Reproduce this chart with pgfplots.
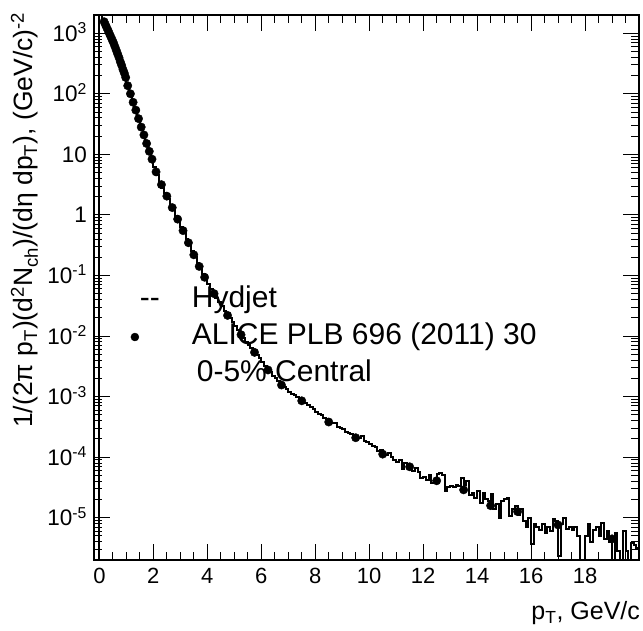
\documentclass[border=0pt]{standalone}
\usepackage{fontspec}
\setmainfont{Liberation Sans}
\usepackage{pgfplots}
\pgfplotsset{compat=1.18}
\pgfplotstableread[row sep=\\]{
x y \\
0 1e-8 \\
0.0 2.1e3 \\ 0.1 1.58e3 \\ 0.2 1.26e3 \\ 0.3 1.0e3 \\ 0.4 7.8e2 \\ 0.5 6.0e2 \\ 0.6 4.6e2 \\ 0.7 3.4e2 \\ 0.8 2.5e2 \\ 0.9 1.86e2 \\
1.0 1.36e2 \\ 1.1 1.0e2 \\ 1.2 72 \\ 1.3 54 \\ 1.4 39 \\ 1.5 28 \\ 1.6 21 \\ 1.7 15 \\ 1.8 11.2 \\ 1.9 8.3 \\
2.0 6.2 \\ 2.1 4.6 \\ 2.2 3.5 \\ 2.3 2.8 \\ 2.4 2.3 \\ 2.5 1.86 \\ 2.6 1.48 \\ 2.7 1.2 \\ 2.8 0.95 \\ 2.9 0.78 \\
3.0 0.63 \\ 3.1 0.50 \\ 3.2 0.40 \\ 3.3 0.32 \\ 3.4 0.25 \\ 3.5 0.20 \\ 3.6 0.162 \\ 3.7 0.132 \\ 3.8 0.107 \\ 3.9 0.087 \\
4.0 0.072 \\ 4.1 0.060 \\ 4.2 0.051 \\ 4.3 0.043 \\ 4.4 0.036 \\ 4.5 0.031 \\ 4.6 0.026 \\ 4.7 0.0224 \\ 4.8 0.0195 \\ 4.9 0.017 \\
5.0 0.0148 \\ 5.1 0.0126 \\ 5.2 0.0107 \\ 5.3 0.0091 \\ 5.4 0.0081 \\ 5.5 0.0072 \\ 5.6 0.0063 \\ 5.7 0.0055 \\ 5.8 0.0048 \\ 5.9 0.0043 \\
6.0 0.0037 \\ 6.1 0.0032 \\ 6.2 0.0028 \\ 6.3 0.0025 \\ 6.4 0.0022 \\ 6.5 0.0020 \\ 6.6 0.00178 \\ 6.7 0.00158 \\ 6.8 0.00145 \\ 6.9 0.00132 \\
7.0 0.0012 \\ 7.1 0.00112 \\ 7.2 0.00105 \\ 7.3 9.8e-4 \\ 7.4 9.1e-4 \\ 7.5 8.5e-4 \\ 7.6 7.9e-4 \\ 7.7 7.2e-4 \\ 7.8 6.8e-4 \\ 7.9 6.2e-4 \\
8.0 5.6e-4 \\ 8.1 5.2e-4 \\ 8.2 5.0e-4 \\ 8.3 4.5e-4 \\ 8.4 4.3e-4 \\ 8.5 4.0e-4 \\ 8.6 3.7e-4 \\ 8.7 3.6e-4 \\ 8.8 3.2e-4 \\ 8.9 3.0e-4 \\
9.0 2.95e-4 \\ 9.1 2.6e-4 \\ 9.2 2.5e-4 \\ 9.3 2.45e-4 \\ 9.4 2.2e-4 \\ 9.5 2.14e-4 \\ 9.6 2.04e-4 \\ 9.7 2.2e-4 \\ 9.8 1.86e-4 \\ 9.9 1.78e-4 \\
10.0 1.66e-4 \\ 10.1 1.51e-4 \\ 10.2 1.45e-4 \\ 10.3 1.26e-4 \\ 10.4 1.32e-4 \\ 10.5 1.12e-4 \\ 10.6 1.07e-4 \\ 10.7 1.17e-4 \\ 10.8 1.0e-4 \\ 10.9 9.1e-5 \\
11.0 8.3e-5 \\ 11.1 8.9e-5 \\ 11.2 6.3e-5 \\ 11.3 7.9e-5 \\ 11.4 6.6e-5 \\ 11.5 7.4e-5 \\ 11.6 6.0e-5 \\ 11.7 6.6e-5 \\ 11.8 5.6e-5 \\ 11.9 4.5e-5 \\
12.0 4.7e-5 \\ 12.1 4.2e-5 \\ 12.2 5.0e-5 \\ 12.3 3.8e-5 \\ 12.4 4.2e-5 \\ 12.5 5.2e-5 \\ 12.6 5.5e-5 \\ 12.7 5.0e-5 \\ 12.8 2.75e-5 \\ 12.9 3.2e-5 \\
13.0 3.3e-5 \\ 13.1 3.2e-5 \\ 13.2 3.5e-5 \\ 13.3 3.3e-5 \\ 13.4 4.5e-5 \\ 13.5 3.5e-5 \\ 13.6 4.0e-5 \\ 13.7 2.4e-5 \\ 13.8 2.6e-5 \\ 13.9 2.1e-5 \\
14.0 2.8e-5 \\ 14.1 1.78e-5 \\ 14.2 2.6e-5 \\ 14.3 2.0e-5 \\ 14.4 1.9e-5 \\ 14.5 2.5e-5 \\ 14.6 1.41e-5 \\ 14.7 1.66e-5 \\ 14.8 1.0e-5 \\ 14.9 1.9e-5 \\
15.0 2.0e-5 \\ 15.1 2.1e-5 \\ 15.2 1.05e-5 \\ 15.3 1.41e-5 \\ 15.4 1.58e-5 \\ 15.5 1.12e-5 \\ 15.6 1.41e-5 \\ 15.7 8.9e-6 \\ 15.8 7.1e-6 \\ 15.9 1.0e-5 \\
16.0 3.7e-6 \\ 16.1 7.9e-6 \\ 16.2 7.1e-6 \\ 16.3 6.3e-6 \\ 16.4 7.9e-6 \\ 16.5 5.6e-6 \\ 16.6 7.1e-6 \\ 16.7 6.0e-6 \\ 16.8 9.5e-6 \\ 16.9 8.9e-6 \\
17.0 2.3e-6 \\ 17.1 7.9e-6 \\ 17.2 1.0e-5 \\ 17.3 6.6e-6 \\ 17.4 7.1e-6 \\ 17.5 6.3e-6 \\ 17.6 7.1e-6 \\ 17.7 5.0e-6 \\ 17.8 1.0e-6 \\ 17.9 1.0e-6 \\
18.0 5.0e-6 \\ 18.1 7.9e-6 \\ 18.2 4.0e-6 \\ 18.3 6.3e-6 \\ 18.4 7.1e-6 \\ 18.5 5.0e-6 \\ 18.6 8.3e-6 \\ 18.7 4.5e-6 \\ 18.8 6.0e-6 \\ 18.9 4.0e-6 \\
19.0 1.0e-6 \\ 19.1 5.6e-6 \\ 19.2 2.8e-6 \\ 19.3 1.0e-6 \\ 19.4 6.0e-6 \\ 19.5 2.8e-6 \\ 19.6 1.0e-6 \\ 19.7 3.8e-6 \\ 19.8 3.5e-6 \\ 19.9 3.2e-6 \\
20.0 3.2e-6 \\
}\hydjet
\pgfplotstableread[row sep=\\]{
x y \\
0.175 1550 \\ 0.225 1380 \\ 0.275 1230 \\ 0.325 1100 \\ 0.375 977 \\ 0.425 871 \\ 0.475 776 \\ 0.525 692 \\ 0.575 603 \\ 0.625 525 \\
0.675 457 \\ 0.725 398 \\ 0.775 339 \\ 0.825 295 \\ 0.875 251 \\ 0.925 219 \\ 0.975 186 \\
1.05 136 \\ 1.15 100 \\ 1.25 72.4 \\ 1.35 53.7 \\ 1.45 38.9 \\ 1.55 28.2 \\ 1.65 20.9 \\ 1.75 15.1 \\ 1.85 11.2 \\ 1.95 8.32 \\
2.1 5.13 \\ 2.3 3.16 \\ 2.5 2.04 \\ 2.7 1.32 \\ 2.9 0.851 \\ 3.1 0.550 \\ 3.3 0.347 \\ 3.5 0.219 \\ 3.7 0.141 \\ 3.9 0.0933 \\
4.25 0.0501 \\ 4.75 0.0219 \\ 5.25 0.0105 \\ 5.75 0.00537 \\ 6.25 0.00275 \\ 6.75 0.00155 \\
7.5 8.51e-4 \\ 8.5 3.80e-4 \\ 9.5 2.09e-4 \\ 10.5 1.12e-4 \\ 11.5 6.92e-5 \\ 12.5 4.07e-5 \\ 13.5 2.88e-5 \\ 14.5 1.58e-5 \\ 15.5 1.26e-5 \\
17 7.59e-6 \\ 19 4.47e-6 \\
}\alice
\begin{document}
\begin{tikzpicture}
\useasboundingbox (-94pt,-71pt) rectangle (549pt,560pt);
\begin{axis}[
  at={(0pt,0pt)}, anchor=south west,
  scale only axis, width=545pt, height=545pt,
  ymode=log, xmin=-0.2, xmax=20, ymin=2e-6, ymax=2e3,
  axis line style={line width=1.2pt},
  tick align=inside,
  major tick length=16pt, minor tick length=8pt,
  every tick/.style={line width=0.9pt, black},
  xtick={0,2,4,6,8,10,12,14,16,18},
  xticklabels={0,2,4,6,8,10,12,14,16,18},
  minor xtick={0.5,1,1.5,2.5,3,3.5,4.5,5,5.5,6.5,7,7.5,8.5,9,9.5,10.5,11,11.5,12.5,13,13.5,14.5,15,15.5,16.5,17,17.5,18.5,19,19.5},
  ytick={1e-5,1e-4,1e-3,1e-2,1e-1,1,10,100,1000},
  yticklabels={10\textsuperscript{-5},10\textsuperscript{-4},10\textsuperscript{-3},10\textsuperscript{-2},10\textsuperscript{-1},1,10,10\textsuperscript{2},10\textsuperscript{3}},
  minor ytick={3e-6,4e-6,5e-6,6e-6,7e-6,8e-6,9e-6,
    2e-5,3e-5,4e-5,5e-5,6e-5,7e-5,8e-5,9e-5,
    2e-4,3e-4,4e-4,5e-4,6e-4,7e-4,8e-4,9e-4,
    2e-3,3e-3,4e-3,5e-3,6e-3,7e-3,8e-3,9e-3,
    0.02,0.03,0.04,0.05,0.06,0.07,0.08,0.09,
    0.2,0.3,0.4,0.5,0.6,0.7,0.8,0.9,
    2,3,4,5,6,7,8,9,
    20,30,40,50,60,70,80,90,
    200,300,400,500,600,700,800,900},
  xticklabel style={font=\fontsize{22}{26}\selectfont, anchor=north, inner sep=0pt, yshift=-8pt},
  yticklabel style={font=\fontsize{22.5}{27}\selectfont, anchor=base east, inner sep=0pt, xshift=-7pt, yshift=-8pt},
  xlabel={p\textsubscript{T}, GeV/c},
  ylabel={1/(2π p\textsubscript{T})(d\textsuperscript{2}N\textsubscript{ch})/(dη dp\textsubscript{T}), (GeV/c)\textsuperscript{-2}},
  xlabel style={font=\fontsize{25}{30}\selectfont, at={(axis description cs:1.002,-0.110)}, anchor=base east, inner sep=0pt},
  ylabel style={font=\fontsize{26.5}{32}\selectfont, at={(axis description cs:-0.112,1.005)}, anchor=base east, inner sep=0pt},
  legend style={at={(axis description cs:0.060,0.504)}, anchor=north west, draw=none, fill=none, inner sep=0pt,
    font=\fontsize{30}{36}\selectfont, row sep=8pt,
    nodes={inner sep=0pt, text height=22pt, text depth=7pt},
    /tikz/every odd column/.append style={column sep=32pt}},
  legend cell align=left,
]
\addplot[const plot mark left, black, line width=2pt,
  legend image code/.code={\path[draw=none,fill=none] (0pt,-5pt) rectangle (20pt,5pt); \node[inner sep=0pt, font=\fontsize{30}{36}\selectfont] at (12pt,0pt) {-{}-};}]
  table[x=x, y=y] {\hydjet};
\addlegendentry{Hydjet}
\addplot[only marks, mark=*, mark size=4.2pt, black,
  legend image code/.code={\path[draw=none,fill=none] (0pt,-5pt) rectangle (20pt,5pt); \draw[black, mark=*, mark size=4pt] plot coordinates {(8pt,0pt)};}]
  table[x=x, y=y] {\alice};
\addlegendentry{ALICE PLB 696 (2011) 30}
\addlegendimage{empty legend}
\addlegendentry{\hspace{5pt}0-5\% Central}
\end{axis}
\end{tikzpicture}
\end{document}
